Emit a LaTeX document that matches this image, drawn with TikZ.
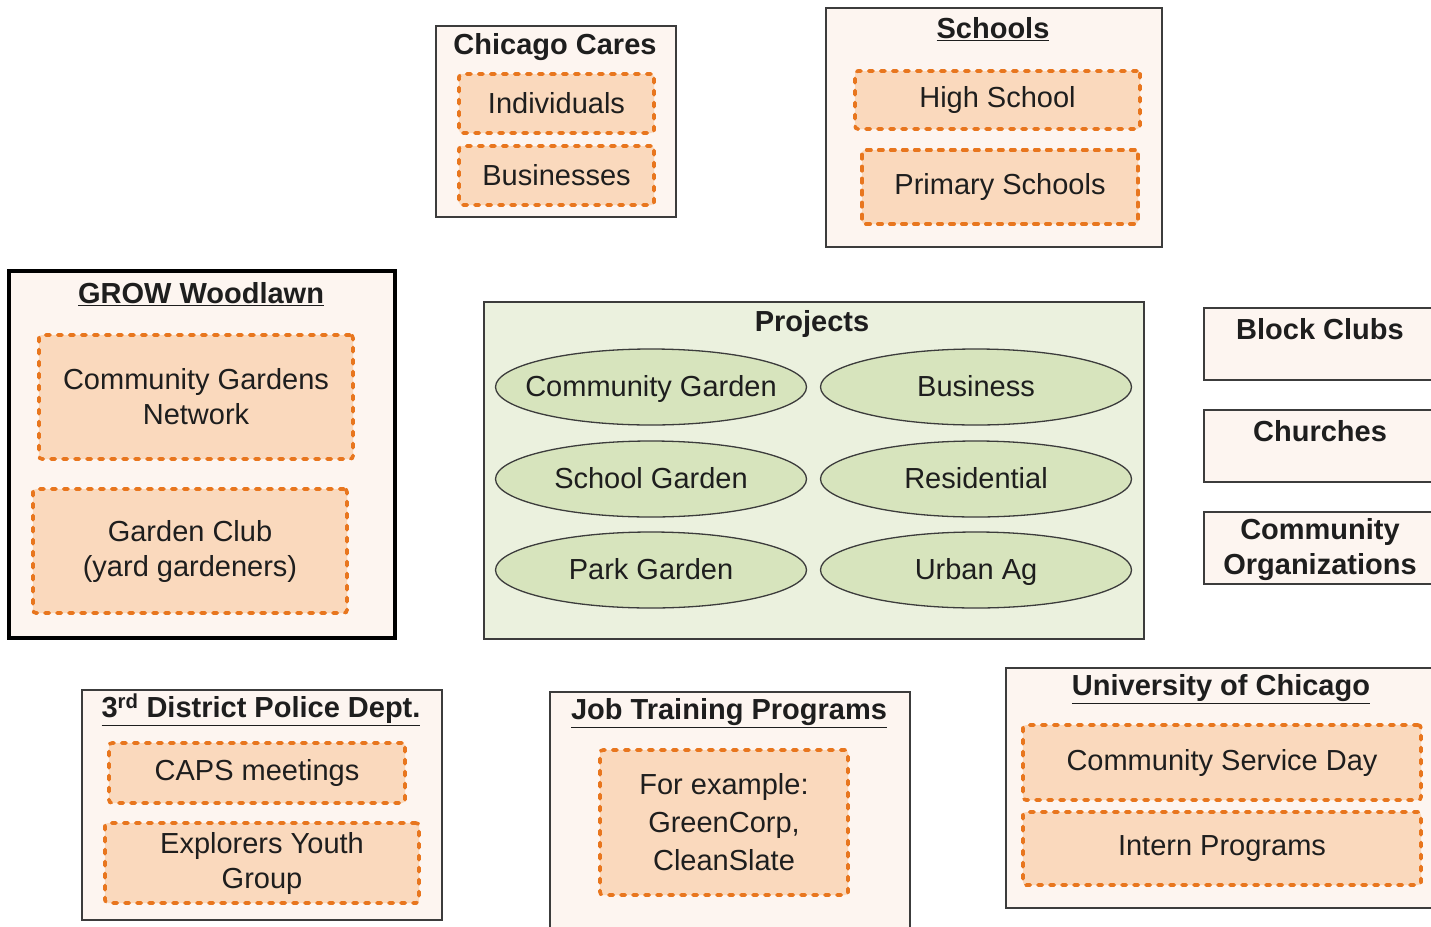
\documentclass[tikz,border=0pt]{standalone}
\usepackage{fontspec}
\setmainfont{Liberation Sans}
\usetikzlibrary{shapes.geometric}

\definecolor{boxline}{HTML}{3C3C3C}
\definecolor{orgfill}{HTML}{FDF5F0}
\definecolor{subfill}{HTML}{FAD9BD}
\definecolor{suborange}{HTML}{E8761E}
\definecolor{projfill}{HTML}{EBF1DE}
\definecolor{ellfill}{HTML}{D7E4BD}
\definecolor{textdark}{HTML}{1E1E1E}

\tikzset{
    orgbox/.style={draw=boxline, line width=1.6pt, fill=orgfill, inner sep=0pt},
    subbox/.style={draw=suborange, fill=subfill, line width=3.6pt, dash pattern=on 4.4pt off 7.6pt,
        line cap=round, rounded corners=3pt, inner sep=0pt, align=center, text=textdark,
        font=\fontsize{29}{35}\selectfont},
    projell/.style={ellipse, draw=boxline, line width=1.3pt, fill=ellfill, inner xsep=-45pt, inner ysep=-10pt,
        text height=20pt, text depth=1pt,
        minimum width=311pt, minimum height=76pt, text=textdark, font=\fontsize{29}{35}\selectfont},
    orgtitle/.style={inner sep=0pt, align=center, text=textdark, font=\bfseries\fontsize{29}{35}\selectfont}
}

\begin{document}
\begin{tikzpicture}[x=1pt, y=-1pt]
    \useasboundingbox (0,0) rectangle (1431,926);
    \clip (0,0) rectangle (1431,926);

    % Chicago Cares
    \node[orgbox, minimum width=240pt, minimum height=191pt] (chicago) at (556,121.5) {};
    \node[orgtitle] (chicagotitle) at (555,47) {Chicago Cares};
    \node[subbox, minimum width=195pt, minimum height=59pt] (individuals) at (556.5,103.5) {Individuals};
    \node[subbox, minimum width=195pt, minimum height=59pt] (businesses) at (556.5,175.5) {Businesses};

    % Schools
    \node[orgbox, minimum width=336pt, minimum height=239pt] (schools) at (994,127.5) {};
    \node[orgtitle] (schoolstitle) at (993,29) {\underline{Schools}};
    \node[subbox, minimum width=285pt, minimum height=58pt] (highschool) at (997.5,100) {High School};
    \node[subbox, minimum width=276pt, minimum height=74pt] (primary) at (1000,187) {Primary Schools};

    % GROW Woodlawn
    \node[orgbox, line width=4.5pt, draw=black, minimum width=386pt, minimum height=367pt] (grow) at (202,454.5) {};
    \node[orgtitle] (growtitle) at (201,294) {\underline{GROW Woodlawn}};
    \node[subbox, minimum width=314pt, minimum height=124pt] (gardensnet) at (196,397) {Community Gardens\\Network};
    \node[subbox, minimum width=314pt, minimum height=124pt] (gardenclub) at (190,551) {Garden Club\\(yard gardeners)};

    % Projects
    \node[draw=boxline, line width=1.6pt, fill=projfill, minimum width=660pt, minimum height=337pt] (projects) at (814,470.5) {};
    \node[orgtitle] (projectstitle) at (812,324) {Projects};
    \node[projell] (commgarden) at (651,387) {Community Garden};
    \node[projell] (business) at (976,387) {Business};
    \node[projell] (schoolgarden) at (651,479) {School Garden};
    \node[projell] (residential) at (976,479) {Residential};
    \node[projell] (parkgarden) at (651,570) {Park Garden};
    \node[projell] (urbanag) at (976,570) {Urban Ag};

    % right column
    \node[orgbox, minimum width=246pt, minimum height=72pt] (blockclubs) at (1327,344) {};
    \node[orgtitle] (blockclubstitle) at (1320,329) {Block Clubs};
    \node[orgbox, minimum width=246pt, minimum height=72pt] (churches) at (1327,446) {};
    \node[orgtitle] (churchestitle) at (1320,431) {Churches};
    \node[orgbox, minimum width=246pt, minimum height=72pt] (commorgs) at (1327,548) {};
    \node[orgtitle] (commorgstitle) at (1320,550) {Community\\Organizations};

    % 3rd District Police
    \node[orgbox, minimum width=360pt, minimum height=230pt] (police) at (262,805) {};
    \node[orgtitle] (policetitle) at (261,710) {\underline{3\textsuperscript{rd} District Police Dept.}};
    \node[subbox, minimum width=296pt, minimum height=60pt] (caps) at (257,773) {CAPS meetings};
    \node[subbox, minimum width=314pt, minimum height=80pt] (explorers) at (262,863) {Explorers Youth\\Group};

    % Job Training Programs
    \node[orgbox, minimum width=360pt, minimum height=268pt] (jobs) at (730,826) {};
    \node[orgtitle] (jobstitle) at (729,713) {\underline{Job Training Programs}};
    \node[subbox, minimum width=248pt, minimum height=145pt, font=\fontsize{29}{38}\selectfont] (jobexample) at (724,822.5) {For example:\\GreenCorp,\\CleanSlate};

    % University of Chicago
    \node[orgbox, minimum width=444pt, minimum height=240pt] (uchicago) at (1228,788) {};
    \node[orgtitle] (uchicagotitle) at (1221,689) {\underline{University of Chicago}};
    \node[subbox, minimum width=398pt, minimum height=75pt] (serviceday) at (1222,762.5) {Community Service Day};
    \node[subbox, minimum width=398pt, minimum height=73pt] (interns) at (1222,848.5) {Intern Programs};
\end{tikzpicture}
\end{document}
